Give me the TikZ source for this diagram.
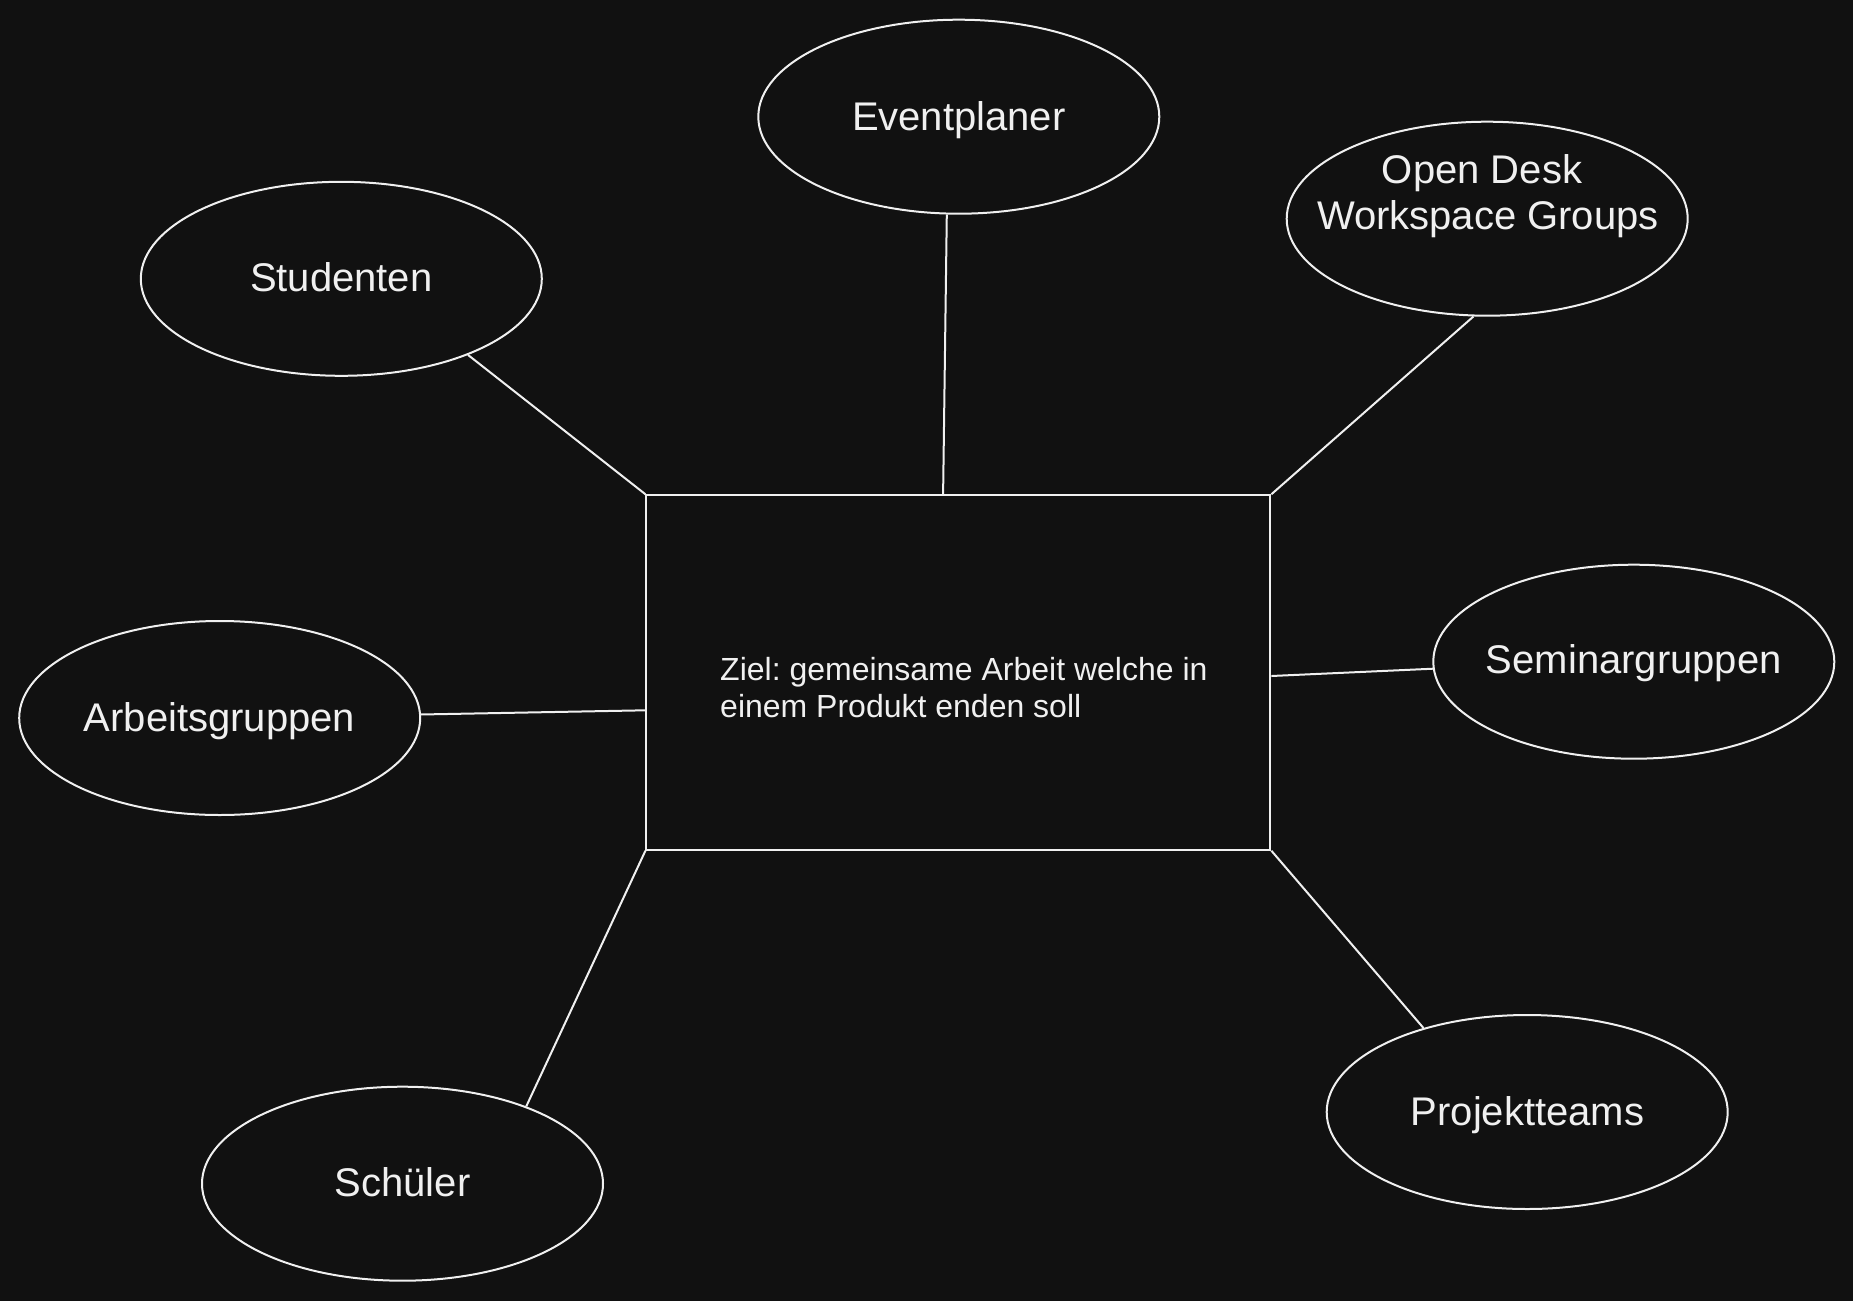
\documentclass[tikz,border=0pt]{standalone}
\usepackage{fontspec}
\setmainfont{Liberation Sans}
\usetikzlibrary{shapes.geometric,calc}
\definecolor{bg}{HTML}{111111}
\definecolor{fg}{HTML}{F0F0F0}
\frenchspacing
\begin{document}
\begin{tikzpicture}[x=1pt,y=-1pt,
  bubble/.style={ellipse,draw=fg,line width=2pt,minimum width=401pt,minimum height=194pt,inner sep=0pt},
  box/.style={rectangle,draw=fg,line width=2pt,minimum width=624pt,minimum height=354.5pt,inner sep=0pt},
  big/.style={text=fg,font=\fontsize{40}{46}\selectfont,anchor=base,inner sep=0pt},
  small/.style={text=fg,font=\fontsize{32}{37.4}\selectfont\frenchspacing,anchor=base west,inner sep=0pt},
  link/.style={draw=fg,line width=2pt}]
\fill[bg] (0,0) rectangle (1853,1301);
\useasboundingbox (0,0) rectangle (1853,1301);

\node[box] (ctr) at (958.4,672.5) {};
\node[bubble] (evt) at (958.8,116.7) {};
\node[bubble] (stu) at (341.3,278.8) {};
\node[bubble] (ode) at (1487.2,218.7) {};
\node[bubble] (arb) at (219.7,718) {};
\node[bubble] (sem) at (1633.8,661.7) {};
\node[bubble] (prj) at (1527.2,1112) {};
\node[bubble] (sch) at (402.5,1183.7) {};

\node[big] (evtT) at (958.8,130) {Eventplaner};
\node[big] (stuT) at (341.3,291) {Studenten};
\node[big] (odeT1) at (1482,183.3) {Open Desk};
\node[big] (odeT2) at (1487.8,229.3) {Workspace Groups};
\node[big] (arbT) at (219.5,731) {Arbeitsgruppen};
\node[big] (semT) at (1633.8,673.3) {Seminargruppen};
\node[big] (prjT) at (1527.5,1125) {Projektteams};
\node[big] (schT) at (402.6,1196.7) {Schüler};
\node[small] (ctrT1) at (720,680) {Ziel: gemeinsame Arbeit welche in};
\node[small] (ctrT2) at (720,717.5) {einem Produkt enden soll};

\draw[link] (stu.-31.3) -- (ctr.north west);
\draw[link] (evt.-97.2) -- ($(ctr.north)+(-15.3,0)$);
\draw[link] (ode.-98.5) -- (ctr.north east);
\draw[link] (sem.182.4) -- ($(ctr.east)+(0,3.5)$);
\draw[link] (prj.141.8) -- (ctr.south east);
\draw[link] (sch.32) -- (ctr.south west);
\draw[link] (arb.1.5) -- ($(ctr.west)+(0,37.8)$);
\end{tikzpicture}
\end{document}
